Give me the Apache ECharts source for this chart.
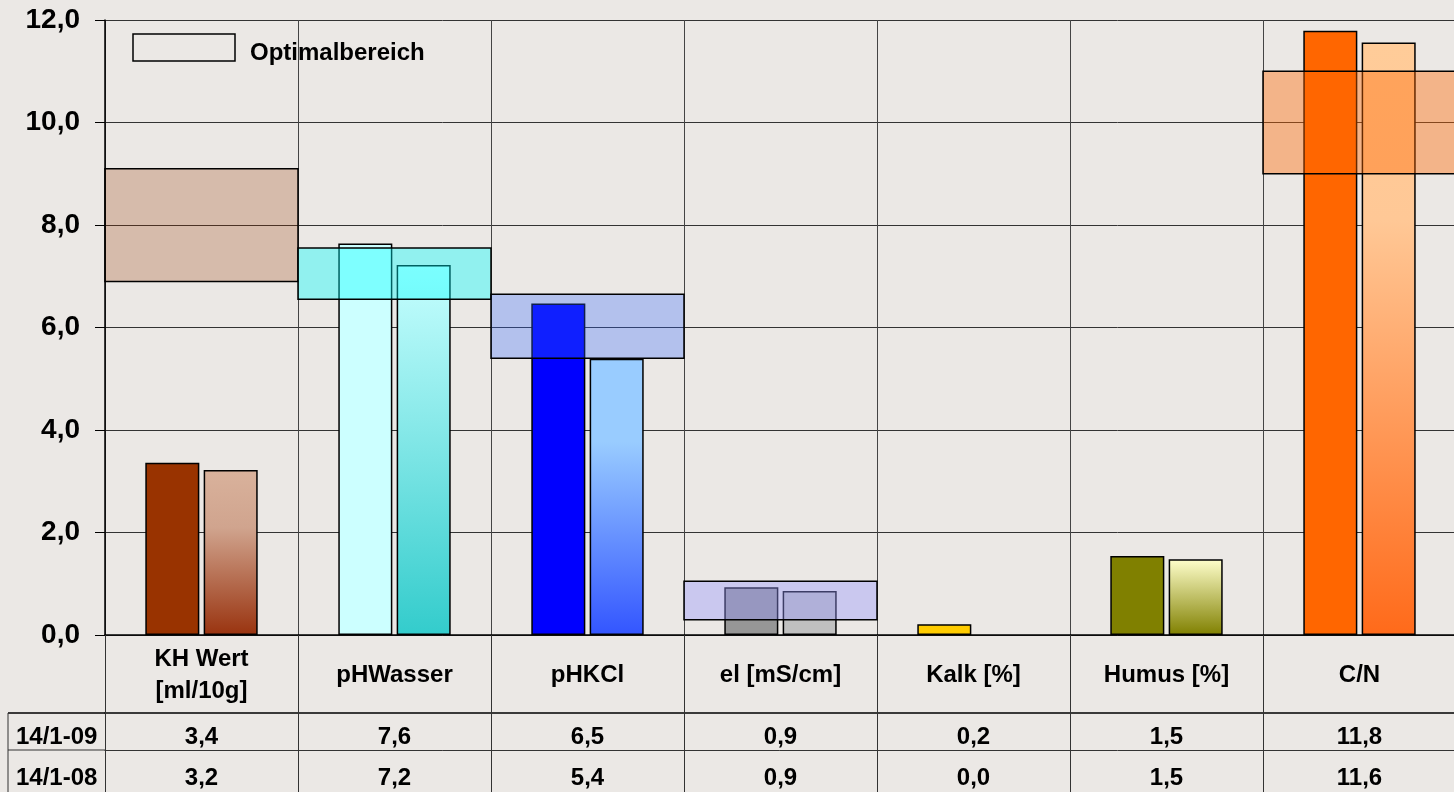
<!DOCTYPE html>
<html>
<head>
<meta charset="utf-8">
<script src="https://cdn.jsdelivr.net/npm/echarts@6/dist/echarts.min.js"></script>
<style>
    html, body { margin: 0; padding: 0; background: #EBE8E5; }
    #chart { width: 1454px; height: 792px; }
</style>
</head>
<body>
<div id="chart"></div>
<script>
// Kategorien und Messwerte
var categories = ['KH Wert\n[ml/10g]', 'pHWasser', 'pHKCl', 'el [mS/cm]', 'Kalk [%]', 'Humus [%]', 'C/N'];
var rowLabels = ['14/1-09', '14/1-08'];
var values09 = [3.36, 7.64, 6.47, 0.93, 0.21, 1.54, 11.79];
var values08 = [3.22, 7.22, 5.39, 0.86, 0.0, 1.48, 11.56];
// Optimalbereich (unten / oben), null = kein Bereich
var optLow = [6.9, 6.55, 5.4, 0.3, null, null, 9.0];
var optHigh = [9.1, 7.55, 6.65, 1.05, null, null, 11.0];
var yTicks = [0, 2, 4, 6, 8, 10, 12];

var FONT = '"Liberation Sans", Arial, sans-serif';

function fmt(v) {
    return v.toFixed(1).replace('.', ',');
}
function grad(top, bottom, mid) {
    var stops = [{ offset: 0, color: top }];
    if (mid) stops.push({ offset: mid[0], color: mid[1] });
    stops.push({ offset: 1, color: bottom });
    return { type: 'linear', x: 0, y: 0, x2: 0, y2: 1, colorStops: stops };
}

var colors09 = ['#993300', '#CCFFFF', '#0000FF', '#969696', '#FFCC00', '#808000', '#FF6600'];
var colors08 = [
    grad('#D9B29C', '#99330F', [0.35, '#D0A48E']),
    grad('#C8FFFF', '#33CCCC'),
    grad('#99CCFF', '#3355FF', [0.3, '#99CCFF']),
    '#C0C0C0',
    '#FFCC00',
    grad('#FFFFCC', '#808000'),
    grad('#FFCC99', '#FF6A1A', [0.3, '#FFC896'])
];
var boxColors = ['rgba(153,51,0,0.25)', 'rgba(0,255,255,0.38)', 'rgba(51,102,255,0.3)',
    'rgba(153,153,255,0.4)', null, null, 'rgba(255,102,0,0.4)'];

var rangeData = [];
optLow.forEach(function (lo, i) {
    if (lo !== null) rangeData.push([i, lo, optHigh[i]]);
});

var labelStyle = { fontFamily: FONT, fontWeight: 'bold', fontSize: 24, color: '#000' };

var myChart = echarts.init(document.getElementById('chart'));
var option = {
    animation: false,
    backgroundColor: '#EBE8E5',
    textStyle: { fontFamily: FONT },
    grid: { left: 105, top: 20, width: 1351, bottom: 157, outerBoundsMode: 'none' },
    xAxis: [
        {
            type: 'category',
            data: categories,
            boundaryGap: true,
            axisLine: { show: true, lineStyle: { color: '#000', width: 1.5 } },
            axisTick: { show: true, interval: 0, length: 157, lineStyle: { color: '#333', width: 1 } },
            splitLine: { show: true, interval: 0, lineStyle: { color: '#444', width: 1 } },
            axisLabel: Object.assign({
                interval: 0, margin: 40, verticalAlign: 'middle', lineHeight: 32, align: 'center'
            }, labelStyle)
        },
        {
            type: 'category',
            data: categories,
            position: 'bottom',
            offset: 78,
            axisLine: { show: true, lineStyle: { color: '#000', width: 1.5 } },
            axisTick: { show: false },
            axisLabel: Object.assign({
                interval: 0, margin: 24, verticalAlign: 'middle',
                formatter: function (v, i) { return fmt(values09[i]); }
            }, labelStyle)
        },
        {
            type: 'category',
            data: categories,
            position: 'bottom',
            offset: 115,
            axisLine: { show: true, lineStyle: { color: '#333', width: 1 } },
            axisTick: { show: false },
            axisLabel: Object.assign({
                interval: 0, margin: 28, verticalAlign: 'middle',
                formatter: function (v, i) { return fmt(values08[i]); }
            }, labelStyle)
        }
    ],
    yAxis: {
        type: 'value',
        min: yTicks[0],
        max: yTicks[yTicks.length - 1],
        interval: 2,
        axisLine: { show: true, lineStyle: { color: '#000', width: 1.5 } },
        axisTick: { show: true, length: 10, lineStyle: { color: '#000' } },
        splitLine: { show: true, lineStyle: { color: '#333', width: 1 } },
        axisLabel: Object.assign({}, labelStyle, {
            fontSize: 28, margin: 25,
            formatter: function (v) { return fmt(v); }
        })
    },
    series: [
        {
            name: rowLabels[0],
            type: 'bar',
            barWidth: '28%',
            barGap: '8%',
            data: values09.map(function (v, i) {
                return { value: v, itemStyle: { color: colors09[i] } };
            }),
            itemStyle: { borderColor: '#000', borderWidth: 1.5 }
        },
        {
            name: rowLabels[1],
            type: 'bar',
            barWidth: '28%',
            barGap: '8%',
            data: values08.map(function (v, i) {
                return { value: v, itemStyle: { color: colors08[i], borderWidth: v > 0 ? 1.5 : 0 } };
            }),
            itemStyle: { borderColor: '#000', borderWidth: 1.5 }
        },
        {
            name: 'Optimalbereich',
            type: 'custom',
            z: 5,
            encode: { x: 0, y: [1, 2] },
            renderItem: function (params, api) {
                var i = api.value(0);
                var top = api.coord([i, api.value(2)]);
                var bot = api.coord([i, api.value(1)]);
                var w = api.size([1, 0])[0];
                return {
                    type: 'rect',
                    shape: { x: top[0] - w / 2, y: top[1], width: w, height: bot[1] - top[1] },
                    style: { fill: boxColors[i], stroke: '#000', lineWidth: 1.5 }
                };
            },
            data: rangeData
        }
    ],
    graphic: [
        // Legende
        {
            type: 'rect', shape: { x: 133, y: 34, width: 102, height: 27 },
            style: { fill: 'none', stroke: '#000', lineWidth: 1.5 }
        },
        {
            type: 'text', x: 250, y: 53,
            style: { text: 'Optimalbereich', font: 'bold 24px ' + FONT, fill: '#000', verticalAlign: 'middle' }
        },
        // Spalte mit den Zeilenbeschriftungen der Tabelle
        { type: 'line', shape: { x1: 8, y1: 713, x2: 105, y2: 713 }, style: { stroke: '#000', lineWidth: 1.5 } },
        { type: 'line', shape: { x1: 8, y1: 750, x2: 105, y2: 750 }, style: { stroke: '#333', lineWidth: 1 } },
        { type: 'line', shape: { x1: 8, y1: 713, x2: 8, y2: 792 }, style: { stroke: '#333', lineWidth: 1 } },
        {
            type: 'text', left: 16, top: 725,
            style: { text: rowLabels[0], font: 'bold 24px ' + FONT, fill: '#000' }
        },
        {
            type: 'text', left: 16, top: 766,
            style: { text: rowLabels[1], font: 'bold 24px ' + FONT, fill: '#000' }
        }
    ]
};
myChart.setOption(option);
window.addEventListener('resize', function () {
    myChart.resize();
});
</script>
</body>
</html>
